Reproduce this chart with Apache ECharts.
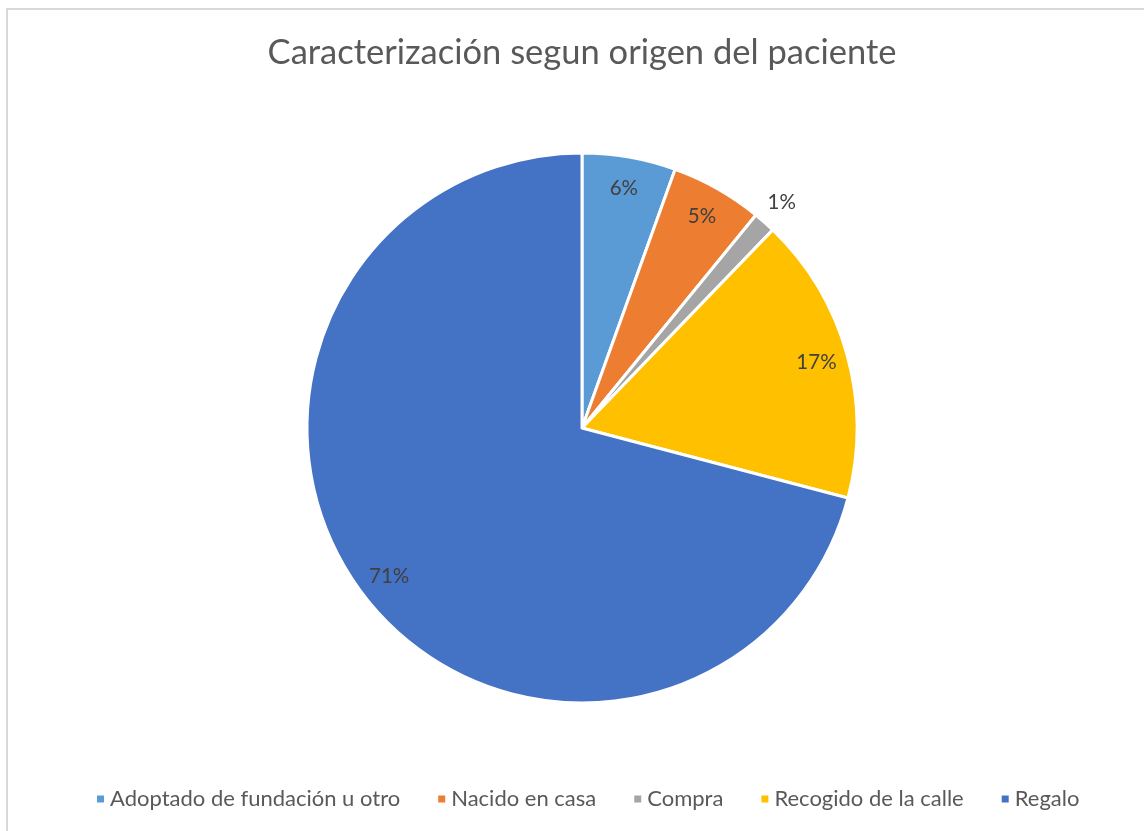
<!DOCTYPE html>
<html>
<head>
<meta charset="utf-8">
<script src="https://cdn.jsdelivr.net/npm/echarts@6/dist/echarts.min.js"></script>
<style>
  html, body { margin: 0; padding: 0; background: #fff; }
  #frame { position: absolute; left: 6px; top: 8px; width: 1200px; height: 900px; border: 2px solid #d9d9d9; box-sizing: border-box; }
  #chart { position: absolute; left: 0; top: 0; width: 1144px; height: 831px; }
</style>
</head>
<body>
<div id="frame"></div>
<div id="chart"></div>
<script>
// Data (percent of patients)
const categories = ["Adoptado de fundación u otro", "Nacido en casa", "Compra", "Recogido de la calle", "Regalo"];
const values = [5.5, 5.4, 1.3, 16.9, 70.9];
const colors = ["#5B9BD5", "#ED7D31", "#A5A5A5", "#FFC000", "#4472C4"];

const total = values.reduce((a, b) => a + b, 0);
const fontFamily = "Lato, 'Open Sans', sans-serif";

const chart = echarts.init(document.getElementById("chart"));

const pieData = categories.map((name, i) => ({
  name: name,
  value: values[i],
  itemStyle: { color: colors[i] },
}));

// overlay ring only carries the labels, so they sit near the rim like Excel does
const labelData = categories.map((name, i) => ({
  name: name,
  value: values[i],
  label: name === "Compra" ? { position: "outside" } : { position: "inside" },
}));

const option = {
  backgroundColor: "transparent",
  animation: false,
  color: colors,
  title: {
    text: "Caracterización segun origen del paciente",
    left: 577,
    textAlign: "center",
    top: 30,
    textStyle: {
      fontFamily: fontFamily,
      fontSize: 34.5,
      fontWeight: "normal",
      color: "#595959",
    },
  },
  legend: {
    bottom: 16,
    left: 90,
    icon: "rect",
    itemWidth: 9,
    itemHeight: 9,
    itemGap: 36,
    textStyle: {
      fontFamily: fontFamily,
      fontSize: 22,
      color: "#595959",
    },
    data: categories,
  },
  series: [
    {
      name: "Origen",
      type: "pie",
      center: [582, 428],
      radius: [0, 275],
      startAngle: 90,
      clockwise: true,
      silent: true,
      label: { show: false },
      labelLine: { show: false },
      itemStyle: { borderColor: "#fff", borderWidth: 3 },
      data: pieData,
    },
    {
      name: "Etiquetas",
      type: "pie",
      center: [582, 428],
      radius: [206, 275],
      startAngle: 90,
      clockwise: true,
      silent: true,
      legendHoverLink: false,
      itemStyle: { color: "transparent", borderWidth: 0 },
      label: {
        show: true,
        fontFamily: fontFamily,
        fontSize: 20.5,
        color: "#404040",
        distanceToLabelLine: 0,
        formatter: (p) => Math.round((p.value / total) * 100) + "%",
      },
      labelLine: { show: false, length: 26, length2: 0 },
      labelLayout: (p) => (p.labelLinePoints ? { align: "center" } : {}),
      data: labelData,
    },
  ],
};

chart.setOption(option);
</script>
</body>
</html>
